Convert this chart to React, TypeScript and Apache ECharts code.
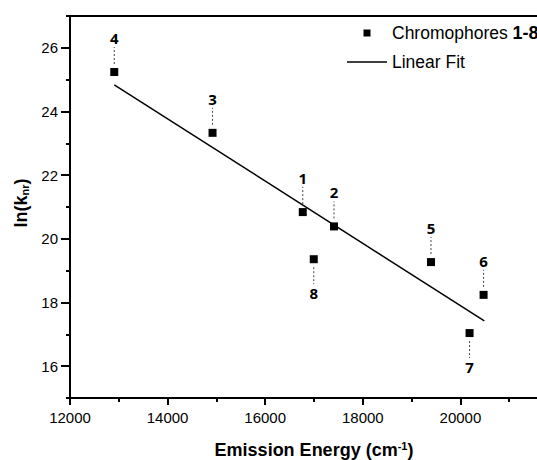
import React, { useEffect, useRef } from "react";
import * as echarts from "echarts";

const pointIds = ["1", "2", "3", "4", "5", "6", "7", "8"];
const emission = [16770, 17410, 14921, 12907, 19397, 20475, 20188, 16995];
const lnKnr = [20.84, 20.39, 23.33, 25.24, 19.27, 18.24, 17.04, 19.36];
const labelDir = [-1, -1, -1, -1, -1, -1, 1, 1]; // -1 above, 1 below
const fitX = [12907, 20490];
const fitY = [24.84, 17.42];
const yMajorTicks = [16, 18, 20, 22, 24, 26];

export default function App() {
  const ref = useRef<HTMLDivElement>(null);
  useEffect(() => {
    if (!ref.current) return;
    const chart = echarts.init(ref.current, null, { renderer: "svg" });
    const axisFont = "Liberation Sans";
    const tickColor = "#000";
    const option: any = {
      animation: false,
      backgroundColor: "#fff",
      grid: {
        left: 70,
        top: 16,
        right: -21,
        bottom: 62,
        show: false,
        containLabel: false,
        outerBoundsMode: "none",
      },
      xAxis: [
        {
          type: "value",
          min: 12000,
          max: 22000,
          interval: 2000,
          name: "Emission Energy (cm{sup|-1}{p|)}",
          nameLocation: "middle",
          nameGap: 42,
          nameTextStyle: {
            fontFamily: axisFont,
            fontWeight: "bold",
            fontSize: 18,
            color: "#000",
            rich: {
              sup: { fontFamily: axisFont, fontWeight: "bold", fontSize: 11, verticalAlign: "top", padding: [0, 0, 8, 0], color: "#000" },
              p: { fontFamily: axisFont, fontWeight: "bold", fontSize: 18, color: "#000" },
            },
          },
          axisLine: { show: true, lineStyle: { color: "#000", width: 2 } },
          axisTick: { show: true, length: 7, lineStyle: { color: tickColor, width: 2 } },
          minorTick: { show: true, splitNumber: 2, length: 4, lineStyle: { color: tickColor, width: 2 } },
          axisLabel: {
            fontFamily: axisFont,
            fontSize: 15,
            color: "#000",
            margin: 12,
            showMaxLabel: false,
            formatter: (v: number) => (v >= 22000 ? "" : String(v)),
          },
          splitLine: { show: false },
        },
        {
          type: "value",
          position: "top",
          min: 12000,
          max: 22000,
          interval: 2000,
          axisLine: { show: true, lineStyle: { color: "#000", width: 2 } },
          axisTick: { show: false },
          axisLabel: { show: false },
          splitLine: { show: false },
        },
      ],
      yAxis: [
        {
          type: "value",
          min: 15,
          max: 27,
          interval: 1,
          position: "left",
          name: "ln(k{sub|nr}{p|)}",
          nameLocation: "middle",
          nameGap: 40,
          nameRotate: 90,
          nameTextStyle: {
            fontFamily: axisFont,
            fontWeight: "bold",
            fontSize: 18,
            color: "#000",
            padding: [0, 0, 0, 8],
            rich: {
              sub: { fontFamily: axisFont, fontWeight: "bold", fontSize: 11, verticalAlign: "bottom", padding: [8, 0, 0, 0], color: "#000" },
              p: { fontFamily: axisFont, fontWeight: "bold", fontSize: 18, color: "#000" },
            },
          },
          axisLine: { show: true, lineStyle: { color: "#000", width: 2 } },
          axisTick: {
            show: true,
            length: 9,
            customValues: yMajorTicks,
            lineStyle: { color: tickColor, width: 2 },
          },
          axisLabel: {
            fontFamily: axisFont,
            fontSize: 15,
            color: "#000",
            margin: 12,
            customValues: yMajorTicks,
          },
          splitLine: { show: false },
        },
        {
          type: "value",
          min: 15,
          max: 27,
          interval: 1,
          position: "left",
          axisLine: { show: false },
          axisTick: { show: true, length: 4, lineStyle: { color: tickColor, width: 2 } },
          axisLabel: { show: false },
          splitLine: { show: false },
        },
      ],
      series: [
        {
          type: "line",
          name: "Linear Fit",
          data: fitX.map((x, i) => [x, fitY[i]]),
          symbol: "none",
          lineStyle: { color: "#000", width: 1.5 },
          z: 2,
        },
        {
          type: "scatter",
          name: "Chromophores 1-8",
          data: emission.map((x, i) => [x, lnKnr[i]]),
          symbol: "rect",
          symbolSize: 8,
          itemStyle: { color: "#000", opacity: 1 },
          z: 3,
        },
        {
          type: "custom",
          name: "ids",
          data: emission.map((x, i) => [x, lnKnr[i], labelDir[i]]),
          renderItem: (params: any, api: any) => {
            const pt = api.coord([api.value(0), api.value(1)]);
            const dir = api.value(2);
            return {
              type: "group",
              children: [
                {
                  type: "line",
                  shape: { x1: pt[0], y1: pt[1] + dir * 8, x2: pt[0], y2: pt[1] + dir * 25 },
                  style: { stroke: "#444", lineWidth: 1, lineDash: [2, 2] },
                },
                {
                  type: "text",
                  x: pt[0],
                  y: pt[1] + dir * 34,
                  style: {
                    text: pointIds[params.dataIndex],
                    align: "center",
                    verticalAlign: "middle",
                    fontFamily: "Open Sans",
                    fontWeight: "bold",
                    fontSize: 15,
                    fill: "#000",
                  },
                },
              ],
            };
          },
          z: 4,
        },
      ],
      graphic: [
        { type: "rect", shape: { x: 363.5, y: 29.5, width: 7, height: 7 }, style: { fill: "#000" } },
        {
          type: "text",
          x: 392,
          y: 33,
          style: {
            text: "Chromophores {b|1-8}",
            fontFamily: "Liberation Sans",
            fontSize: 17.5,
            fill: "#000",
            verticalAlign: "middle",
            rich: { b: { fontFamily: "Liberation Sans", fontWeight: "bold", fontSize: 18, fill: "#000" } },
          },
        },
        { type: "line", shape: { x1: 347, y1: 62, x2: 387, y2: 62 }, style: { stroke: "#000", lineWidth: 1.5 } },
        {
          type: "text",
          x: 392,
          y: 62,
          style: { text: "Linear Fit", fontFamily: "Liberation Sans", fontSize: 17.5, fill: "#000", verticalAlign: "middle" },
        },
      ],
    };
    chart.setOption(option);
    return () => chart.dispose();
  }, []);
  return <div ref={ref} style={{ position: "fixed", left: 0, top: 0, width: 537, height: 460 }} />;
}
